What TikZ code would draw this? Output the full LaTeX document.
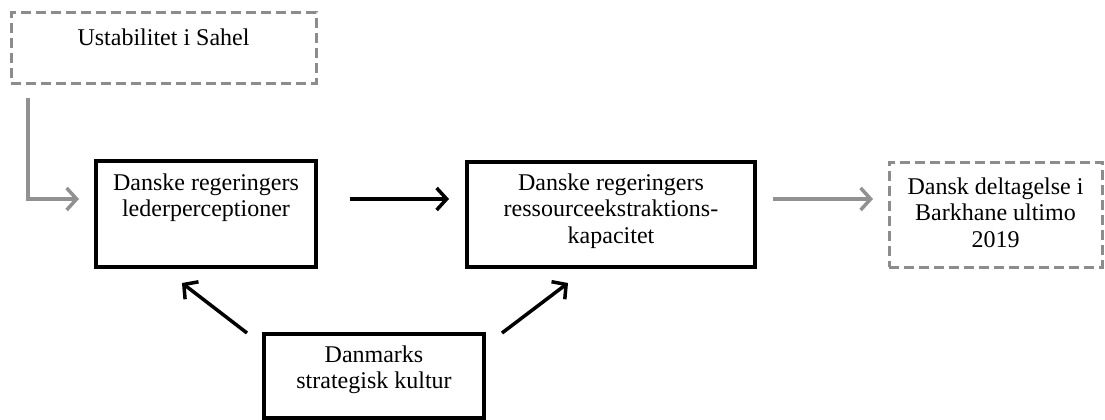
\documentclass[tikz,border=0pt]{standalone}
\usepackage{fontspec}
\setmainfont{Liberation Serif}
\usetikzlibrary{arrows.meta}

\definecolor{boxgray}{RGB}{140,140,140}
\definecolor{arrowgray}{RGB}{145,145,145}

\tikzset{
	box/.style={draw=black, line width=3.5pt, rectangle, inner sep=0pt},
	dashbox/.style={draw=boxgray, line width=3pt, dash pattern=on 10pt off 5pt, rectangle, inner sep=0pt},
	boxtext/.style={align=center, font=\fontsize{24}{26.5}\selectfont, inner sep=0pt},
	blackarrow/.style={line width=3.5pt, -{Straight Barb[length=10pt, width=22pt]}},
	grayarrow/.style={line width=3.5pt, color=arrowgray, -{Straight Barb[length=10pt, width=22pt]}}
}

\begin{document}
\begin{tikzpicture}[x=1pt, y=-1pt]
		%%%%% START %%%%%
		
		\useasboundingbox (0, 0) rectangle (1105, 420);
		
		\node[dashbox, minimum width=305pt, minimum height=70pt] (sahel) at (163.5, 48) {};
		\node[boxtext] (sahel-txt) at (163.5, 37) {Ustabilitet i Sahel};
		
		\node[box, minimum width=220pt, minimum height=106pt] (leder) at (206, 214) {};
		\node[boxtext] (leder-txt) at (206, 197.5) {Danske regeringers\\lederperceptioner};
		
		\node[box, minimum width=288pt, minimum height=105pt] (ressource) at (611, 214.5) {};
		\node[boxtext] (ressource-txt) at (611, 211) {Danske regeringers\\ressourceekstraktions-\\kapacitet};
		
		\node[dashbox, minimum width=213pt, minimum height=105pt] (barkhane) at (995.5, 214.5) {};
		\node[boxtext] (barkhane-txt) at (995.5, 212.5) {Dansk deltagelse i\\Barkhane ultimo\\2019};
		
		\node[box, minimum width=220pt, minimum height=84pt] (kultur) at (374, 376) {};
		\node[boxtext] (kultur-txt) at (374, 370) {Danmarks\\strategisk kultur};
		
		% arrow ends
		\coordinate (sahel-out) at (28, 98);
		\coordinate (leder-in) at (79, 199);
		\coordinate (leder-out) at (350, 199);
		\coordinate (ressource-in) at (449, 199);
		\coordinate (ressource-out) at (773, 199);
		\coordinate (barkhane-in) at (873, 199);
		\coordinate (kultur-left) at (247, 333);
		\coordinate (leder-low) at (182, 283);
		\coordinate (kultur-right) at (502, 333);
		\coordinate (ressource-low) at (568, 283);
		
		\draw[grayarrow] (sahel-out) |- (leder-in);
		\draw[blackarrow] (leder-out) -- (ressource-in);
		\draw[grayarrow] (ressource-out) -- (barkhane-in);
		\draw[blackarrow] (kultur-left) -- (leder-low);
		\draw[blackarrow] (kultur-right) -- (ressource-low);
		
		%%%%% END %%%%%
	\end{tikzpicture}
\end{document}
